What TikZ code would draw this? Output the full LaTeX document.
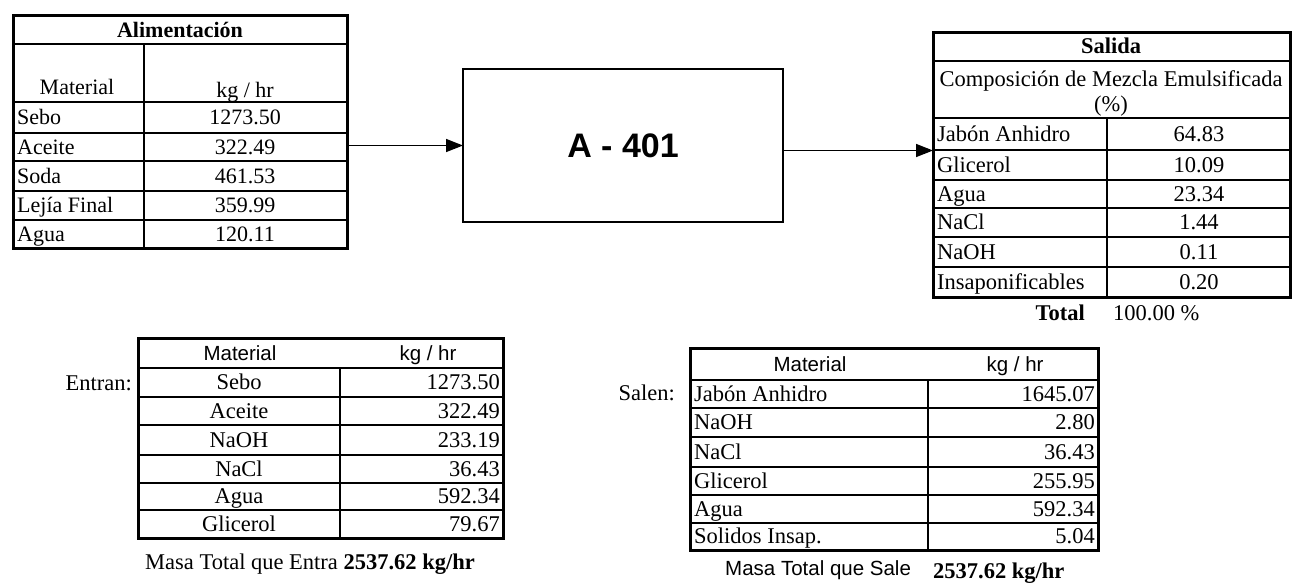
\documentclass[tikz,border=0pt]{standalone}
\usepackage{fontspec}
\setmainfont{Liberation Serif}
\newfontfamily\arial{Liberation Sans}
\usetikzlibrary{arrows.meta}
\begin{document}
\begin{tikzpicture}[x=1pt,y=-1pt,
  frame/.style={draw, line width=3pt, inner sep=0pt, outer sep=0pt, anchor=north west},
  rule/.style={line width=1.5pt},
  hrule/.style={line width=2.6pt},
  txt/.style={inner sep=0pt, text height=17pt, text depth=3pt, font=\fontsize{22}{24}\selectfont},
  txtb/.style={inner sep=0pt, text height=17pt, text depth=3pt, font=\fontsize{22.5}{24}\selectfont},
  sans/.style={inner sep=0pt, text height=17pt, text depth=3pt, font=\arial\fontsize{20.5}{22}\selectfont},
  arr/.style={line width=1.5pt, -{Triangle[length=17pt,width=13pt]}}]
\useasboundingbox (0,0) rectangle (1292,582);

% ---------- Alimentacion ----------
\node[frame, minimum width=334pt, minimum height=233pt] (t1) at (13,15) {};
\draw[hrule] (13,44) -- (347,44);
\draw[hrule] (13,102) -- (347,102);
\foreach \y in {133,161,191,220} \draw[rule] (13,\y) -- (347,\y);
\draw[rule] (144,44) -- (144,248);
\node[txt] (t1title) at (180,30) {\textbf{Alimentación}};
\node[txt] (t1mat) at (77,87) {Material};
\node[txt] (t1kg) at (245,90) {kg / hr};
\foreach \y/\a/\b [count=\i] in {117.5/Sebo/1273.50, 147/Aceite/322.49, 176/Soda/461.53, 205.5/Lejía Final/359.99, 234/Agua/120.11}{
  \node[txt, anchor=west] (t1a\i) at (17,\y) {\a};
  \node[txt] (t1b\i) at (245,\y) {\b};
}

% ---------- Equipment ----------
\node[draw, line width=1.7pt, minimum width=320pt, minimum height=153pt, inner sep=0pt, outer sep=0pt,
      font=\arial\bfseries\fontsize{34}{36}\selectfont] (box) at (623,145.5) {A - 401};

% ---------- Salida ----------
\node[frame, minimum width=357pt, minimum height=265pt] (sal) at (933,32) {};
\draw[hrule] (933,61) -- (1290,61);
\draw[hrule] (933,118) -- (1290,118);
\foreach \y in {150,180,208,237,267} \draw[rule] (933,\y) -- (1290,\y);
\draw[rule] (1107,118) -- (1107,297);
\node[txtb] (saltitle) at (1111,46) {\textbf{Salida}};
\node[txtb] (salcomp) at (1111,79) {Composición de Mezcla Emulsificada};
\node[txtb] (salpct) at (1111,104) {(\%)};
\foreach \y/\a/\b [count=\i] in {134/Jabón Anhidro/64.83, 165/Glicerol/10.09, 194/Agua/23.34, 222.5/NaCl/1.44, 252/NaOH/0.11, 282/Insaponificables/0.20}{
  \node[txtb, anchor=west] (sala\i) at (937,\y) {\a};
  \node[txtb] (salb\i) at (1199,\y) {\b};
}
\node[txtb, anchor=east] (totl) at (1085,313) {\textbf{Total}};
\node[txtb, anchor=west] (totv) at (1113,313) {100.00 \%};

% ---------- Connectors ----------
\draw[arr] (t1.east |- box.west) -- (box.west);
\coordinate (r1) at ([yshift=-5pt]box.east);
\draw[arr] (r1) -- (r1 -| sal.west);

% ---------- Entran ----------
\node[frame, minimum width=365pt, minimum height=200pt] (ent) at (138,338) {};
\draw[hrule] (138,368) -- (503,368);
\foreach \y in {397,425,455,483,510} \draw[rule] (138,\y) -- (503,\y);
\draw[rule] (340,368) -- (340,538);
\node[sans] (entmat) at (240,353) {Material};
\node[sans] (entkg) at (428,353) {kg / hr};
\foreach \y/\a/\b [count=\i] in {382.5/Sebo/1273.50, 411/Aceite/322.49, 440/NaOH/233.19, 469/NaCl/36.43, 496.5/Agua/592.34, 524/Glicerol/79.67}{
  \node[txtb] (enta\i) at (239,\y) {\a};
  \node[txtb, anchor=east] (entb\i) at (500,\y) {\b};
}
\node[txtb, anchor=east] (entlbl) at (132,383) {Entran:};
\node[txtb, anchor=west] (enttot) at (145,562) {Masa Total que Entra \textbf{2537.62 kg/hr}};

% ---------- Salen ----------
\node[frame, minimum width=408pt, minimum height=202pt] (sln) at (690,348) {};
\draw[hrule] (690,380) -- (1098,380);
\foreach \y in {408,437,467,495,523} \draw[rule] (690,\y) -- (1098,\y);
\draw[rule] (928,380) -- (928,550);
\node[sans] (slnmat) at (810,364) {Material};
\node[sans] (slnkg) at (1015,364) {kg / hr};
\foreach \y/\a/\b [count=\i] in {394/Jabón Anhidro/1645.07, 422.5/NaOH/2.80, 452/NaCl/36.43, 481/Glicerol/255.95, 509/Agua/592.34, 536.5/Solidos Insap./5.04}{
  \node[txtb, anchor=west] (slna\i) at (694,\y) {\a};
  \node[txtb, anchor=east] (slnb\i) at (1095,\y) {\b};
}
\node[txtb, anchor=east] (slnlbl) at (675,393) {Salen:};
\node[sans, anchor=west] (slntot) at (725,568) {Masa Total que Sale};
\node[txtb, anchor=west] (slnval) at (933,571) {\textbf{2537.62 kg/hr}};
\end{tikzpicture}
\end{document}
